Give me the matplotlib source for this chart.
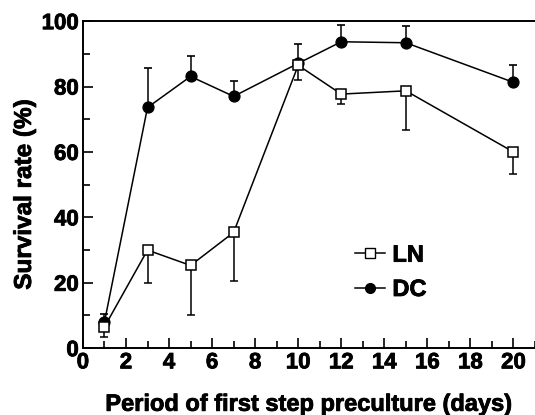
import matplotlib.pyplot as plt
import matplotlib.patheffects as pe
from matplotlib.lines import Line2D
from matplotlib.ticker import MultipleLocator

plt.rcParams['font.family'] = 'Liberation Sans'
plt.rcParams['font.weight'] = 'bold'
plt.rcParams['axes.labelweight'] = 'bold'

# data
days = [1, 3, 5, 7, 10, 12, 15, 20]
ln_mean = [6.5, 30.0, 25.3, 35.4, 86.5, 77.7, 78.7, 60.0]
ln_err = [3.2, 10.0, 15.3, 15.0, 4.5, 3.0, 12.0, 6.8]      # lower bars only
dc_mean = [8.0, 73.6, 83.1, 77.0, 87.1, 93.7, 93.4, 81.3]
dc_err = [2.6, 12.0, 6.3, 4.7, 5.8, 5.2, 5.2, 5.2]         # upper bars only

fig = plt.figure(figsize=(5.35, 4.15), dpi=100)
ax = fig.add_axes([0.155, 0.161, 0.845, 0.788])

ax.errorbar(days, dc_mean, yerr=[[0] * len(dc_err), dc_err], color='black',
            lw=1.1, marker='o', ms=7.8, mfc='black', mec='black',
            capsize=2.8, capthick=1.2, elinewidth=1.1, zorder=3)
ax.errorbar(days, ln_mean, yerr=[ln_err, [0] * len(ln_err)], color='black',
            lw=1.1, marker='s', ms=7.5, mfc='white', mec='black', mew=1.1,
            capsize=2.8, capthick=1.2, elinewidth=1.1, zorder=4)

ax.set_xlim(0, 21)
ax.set_ylim(0, 100)
ax.xaxis.set_major_locator(MultipleLocator(2))
ax.xaxis.set_minor_locator(MultipleLocator(1))
ax.yaxis.set_major_locator(MultipleLocator(20))
ax.yaxis.set_minor_locator(MultipleLocator(10))
ax.tick_params(which='both', direction='in', width=1.2, labelsize=16, pad=3)
ax.tick_params(which='major', length=7)
ax.tick_params(which='minor', length=5)
ax.spines['right'].set_visible(False)
for s in ['left', 'bottom', 'top']:
    ax.spines[s].set_linewidth(1.4)

ax.set_xlabel('Period of first step preculture (days)', fontsize=17,
              fontweight='bold', labelpad=14)
ax.set_ylabel('Survival rate (%)', fontsize=17.5, fontweight='bold')
ax.yaxis.set_label_coords(-0.104, 0.47)

handles = [
    Line2D([], [], color='black', lw=1.1, marker='s', ms=7, mfc='white', mec='black'),
    Line2D([], [], color='black', lw=1.1, marker='o', ms=7, mfc='black', mec='black'),
]
leg = ax.legend(handles, ['LN', 'DC'], loc='center left', bbox_to_anchor=(0.601, 0.232),
                frameon=False, prop={'size': 17, 'weight': 'bold'}, borderpad=0,
                borderaxespad=0, handlelength=1.3, handletextpad=0.3, labelspacing=0.48)

# the original lettering is heavier than Liberation Sans Bold
texts = ax.get_xticklabels() + ax.get_yticklabels() + leg.get_texts()
texts += [ax.xaxis.label, ax.yaxis.label]
for t in texts:
    t.set_path_effects([pe.withStroke(linewidth=0.6, foreground='black')])

fig.savefig('out.png', dpi=100)
